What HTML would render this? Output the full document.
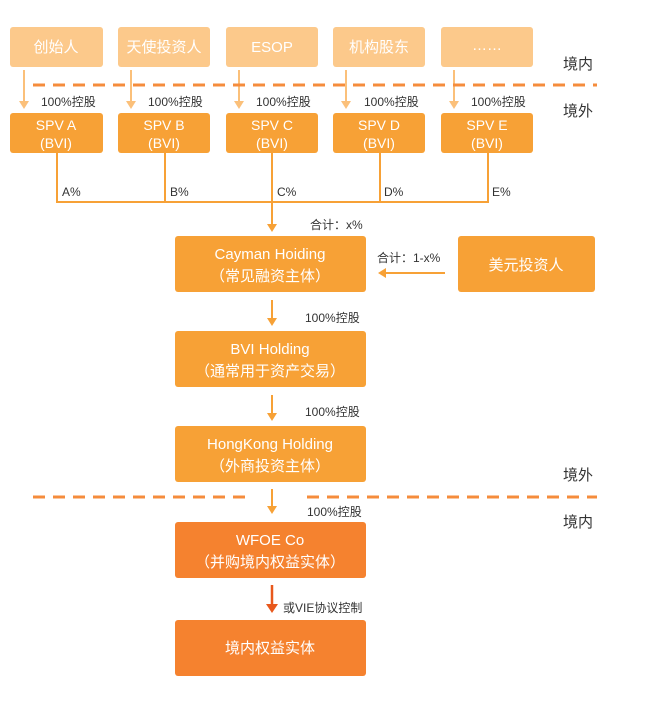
<!DOCTYPE html>
<html><head><meta charset="utf-8"><style>
body{margin:0;background:#fff;width:650px;height:700px;overflow:hidden;font-family:"Liberation Sans","Noto Sans CJK SC",sans-serif;}
svg text{font-family:"Liberation Sans","Noto Sans CJK SC",sans-serif;}
</style></head><body>
<svg width="650" height="700" xmlns="http://www.w3.org/2000/svg">
<defs>
<marker id="a1" markerWidth="8" markerHeight="8" refX="4" refY="7" orient="auto" markerUnits="userSpaceOnUse"><path d="M0,0 L4,7 L8,0 Z" fill="#fbc07a"/></marker>
</defs>
<g fill="#fcc98b">
<rect x="10" y="27" width="93" height="40" rx="3"/>
<rect x="118" y="27" width="92" height="40" rx="3"/>
<rect x="226" y="27" width="92" height="40" rx="3"/>
<rect x="333" y="27" width="92" height="40" rx="3"/>
<rect x="441" y="27" width="92" height="40" rx="3"/>
</g>
<g fill="#fff" font-size="15" text-anchor="middle">
<text x="56" y="52">创始人</text><text x="164" y="52">天使投资人</text><text x="272" y="52">ESOP</text><text x="379" y="52">机构股东</text><text x="487" y="50">……</text>
</g>
<g stroke="#fbc07a" stroke-width="2">
<line x1="24" y1="70" x2="24" y2="104"/><line x1="131" y1="70" x2="131" y2="104"/><line x1="239" y1="70" x2="239" y2="104"/><line x1="346" y1="70" x2="346" y2="104"/><line x1="454" y1="70" x2="454" y2="104"/>
</g>
<g fill="#fbc07a">
<path d="M19,101 L29,101 L24,109Z"/><path d="M126,101 L136,101 L131,109Z"/><path d="M234,101 L244,101 L239,109Z"/><path d="M341,101 L351,101 L346,109Z"/><path d="M449,101 L459,101 L454,109Z"/>
</g>
<g stroke="#f58c3c" stroke-width="3" stroke-dasharray="12,8">
<line x1="33" y1="85" x2="597" y2="85"/>
<line x1="33" y1="497" x2="247" y2="497"/>
<line x1="307" y1="497" x2="597" y2="497"/>
</g>
<g font-size="15" fill="#333"><text x="563" y="69">境内</text><text x="563" y="116">境外</text><text x="563" y="480">境外</text><text x="563" y="527">境内</text></g>
<g font-size="12" fill="#333">
<text x="41" y="106">100%控股</text><text x="148" y="106">100%控股</text><text x="256" y="106">100%控股</text><text x="364" y="106">100%控股</text><text x="471" y="106">100%控股</text>
</g>
<g fill="#f7a136">
<rect x="10" y="113" width="93" height="40" rx="3"/><rect x="118" y="113" width="92" height="40" rx="3"/><rect x="226" y="113" width="92" height="40" rx="3"/><rect x="333" y="113" width="92" height="40" rx="3"/><rect x="441" y="113" width="92" height="40" rx="3"/>
</g>
<g fill="#fff" font-size="14" text-anchor="middle">
<text x="56" y="130">SPV A</text><text x="56" y="148">(BVI)</text>
<text x="164" y="130">SPV B</text><text x="164" y="148">(BVI)</text>
<text x="272" y="130">SPV C</text><text x="272" y="148">(BVI)</text>
<text x="379" y="130">SPV D</text><text x="379" y="148">(BVI)</text>
<text x="487" y="130">SPV E</text><text x="487" y="148">(BVI)</text>
</g>
<g stroke="#f7a136" stroke-width="2" fill="none">
<line x1="57" y1="153" x2="57" y2="202"/><line x1="165" y1="153" x2="165" y2="202"/><line x1="380" y1="153" x2="380" y2="202"/><line x1="488" y1="153" x2="488" y2="202"/>
<line x1="56" y1="202" x2="489" y2="202"/>
<line x1="272" y1="153" x2="272" y2="226"/>
</g>
<path d="M267,224 L277,224 L272,232Z" fill="#f7a136"/>
<g font-size="12" fill="#333">
<text x="62" y="196">A%</text><text x="170" y="196">B%</text><text x="277" y="196">C%</text><text x="384" y="196">D%</text><text x="492" y="196">E%</text>
<text x="310" y="229">合计：x%</text>
<text x="377" y="262">合计：1-x%</text>
</g>
<g fill="#f7a136">
<rect x="175" y="236" width="191" height="56" rx="3"/>
<rect x="458" y="236" width="137" height="56" rx="3"/>
<rect x="175" y="331" width="191" height="56" rx="3"/>
<rect x="175" y="426" width="191" height="56" rx="3"/>
</g>
<g fill="#f5822f">
<rect x="175" y="522" width="191" height="56" rx="3"/>
<rect x="175" y="620" width="191" height="56" rx="3"/>
</g>
<g fill="#fff" font-size="15" text-anchor="middle">
<text x="270" y="259">Cayman Hoiding</text><text x="270" y="281">（常见融资主体）</text>
<text x="526" y="270">美元投资人</text>
<text x="270" y="354">BVI Holding</text><text x="270" y="376">（通常用于资产交易）</text>
<text x="270" y="449">HongKong Holding</text><text x="270" y="471">（外商投资主体）</text>
<text x="270" y="545">WFOE Co</text><text x="270" y="567">（并购境内权益实体）</text>
<text x="270" y="653">境内权益实体</text>
</g>
<line x1="445" y1="273" x2="384" y2="273" stroke="#f7a136" stroke-width="2"/>
<path d="M378,273 L386,268 L386,278Z" fill="#f7a136"/>
<g stroke="#f7a136" stroke-width="2">
<line x1="272" y1="300" x2="272" y2="320"/><line x1="272" y1="395" x2="272" y2="415"/><line x1="272" y1="489" x2="272" y2="508"/>
</g>
<g fill="#f7a136"><path d="M267,318 L277,318 L272,326Z"/><path d="M267,413 L277,413 L272,421Z"/><path d="M267,506 L277,506 L272,514Z"/></g>
<line x1="272" y1="585" x2="272" y2="606" stroke="#e8581c" stroke-width="2.5"/>
<path d="M266,604 L278,604 L272,613Z" fill="#e8581c"/>
<g font-size="12" fill="#333">
<text x="305" y="322">100%控股</text><text x="305" y="416">100%控股</text><text x="307" y="516">100%控股</text><text x="283" y="612">或VIE协议控制</text>
</g>
</svg>
</body></html>
